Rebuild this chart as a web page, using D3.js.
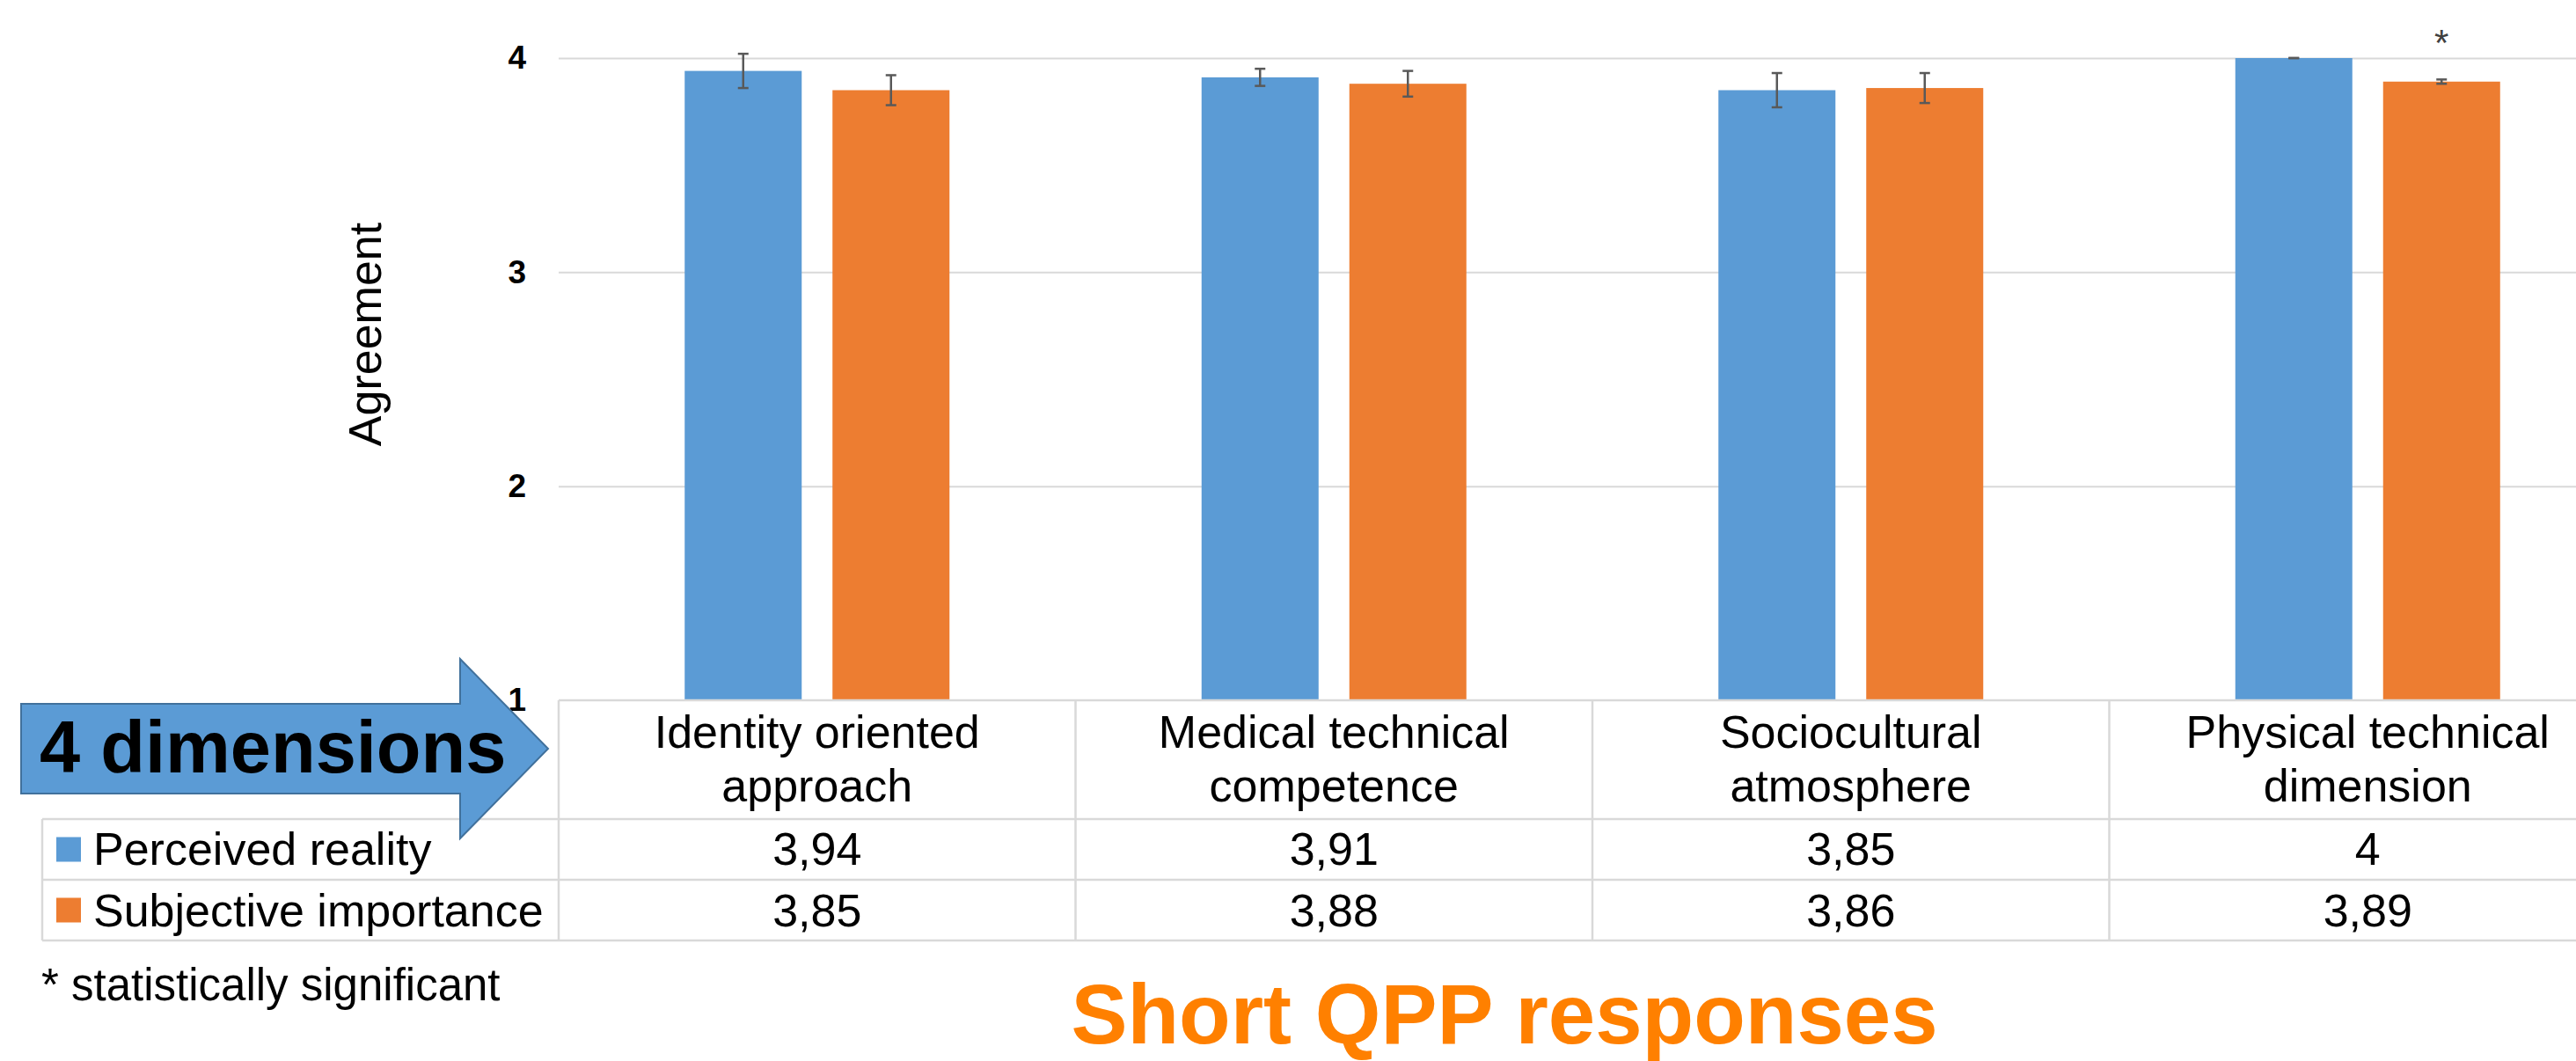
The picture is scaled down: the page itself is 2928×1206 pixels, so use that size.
<!DOCTYPE html>
<html>
<head>
<meta charset="utf-8">
<script src="https://cdn.jsdelivr.net/npm/d3@7"></script>
<style>
  html, body { margin: 0; padding: 0; background: #ffffff; }
  svg { display: block; }
  text { font-family: "Liberation Sans", Arial, sans-serif; }
</style>
</head>
<body>
<svg id="chart" width="2928" height="1206"></svg>
<script>
// ---- data ----
const categories = ["Identity oriented approach", "Medical technical competence", "Sociocultural atmosphere", "Physical technical dimension"];
const categoryLines = [["Identity oriented", "approach"], ["Medical technical", "competence"], ["Sociocultural", "atmosphere"], ["Physical technical", "dimension"]];
const seriesNames = ["Perceived reality", "Subjective importance"];
const perceived = [3.94, 3.91, 3.85, 4];
const importance = [3.85, 3.88, 3.86, 3.89];
const perceivedErr = [0.08, 0.04, 0.08, 0];
const importanceErr = [0.07, 0.06, 0.07, 0.01];
const importanceSignificant = [false, false, false, true];
const yTicks = [1, 2, 3, 4];
const colors = ["#5B9BD5", "#ED7D31"];
const yTitle = "Agreement";
const chartTitle = "Short QPP responses";
const arrowLabel = "4 dimensions";
const footnote = "* statistically significant";

// ---- layout ----
const svg = d3.select("#chart");
const plotLeft = 635, colW = 587.5;
const plotRight = plotLeft + colW * categories.length;
const yTop = 66, yBottom = 796;
const rowTops = [796, 931, 1000, 1069];
const legendLeft = 48;

const series = seriesNames.map((name, i) => ({
  name, color: colors[i],
  values: i === 0 ? perceived : importance,
  errs: i === 0 ? perceivedErr : importanceErr
}));

const x0 = d3.scaleBand().domain(categories).range([plotLeft, plotRight]).padding(0);
const x1 = d3.scaleBand().domain(seriesNames).range([0, x0.bandwidth()])
  .paddingInner(0.2083).paddingOuter(0.8527);
const y = d3.scaleLinear().domain([1, 4]).range([yBottom, yTop]);

const fmt = d3.formatLocale({decimal: ",", thousands: ".", grouping: [3], currency: ["", ""]}).format("~g");

// gridlines (via axis)
const grid = svg.append("g").attr("transform", `translate(${plotLeft},0)`)
  .call(d3.axisLeft(y).tickValues(yTicks.filter(t => t > 1)).tickSize(-(plotRight - plotLeft)).tickFormat(""));
grid.select(".domain").remove();
grid.selectAll("line").attr("stroke", "#d9d9d9").attr("stroke-width", 2);

// y tick labels
const yAxis = svg.append("g").attr("transform", `translate(${plotLeft},0)`)
  .call(d3.axisLeft(y).tickValues(yTicks).tickSize(0).tickPadding(37).tickFormat(d3.format("d")));
yAxis.select(".domain").remove();
yAxis.selectAll("text")
  .attr("font-family", "Liberation Sans, Arial, sans-serif")
  .attr("font-size", 37).attr("font-weight", "bold").attr("fill", "#000");

// y title
svg.append("text")
  .attr("transform", `translate(433,380) rotate(-90)`)
  .attr("text-anchor", "middle").attr("font-size", 52).attr("fill", "#000")
  .text(yTitle);

// bars
const groups = svg.append("g").selectAll("g").data(categories).join("g")
  .attr("transform", d => `translate(${x0(d)},0)`);
series.forEach((s, si) => {
  groups.append("rect")
    .attr("x", x1(s.name))
    .attr("width", x1.bandwidth())
    .attr("y", (d, i) => y(s.values[i]))
    .attr("height", (d, i) => y(1) - y(s.values[i]))
    .attr("fill", s.color);
});
// error bars
const capW = 12;
series.forEach((s, si) => {
  const cx = x1(s.name) + x1.bandwidth() / 2;
  const eb = groups.append("g").attr("stroke", "#595959").attr("stroke-width", 2.5);
  eb.append("line").attr("x1", cx).attr("x2", cx)
    .attr("y1", (d, i) => y(s.values[i] + s.errs[i]))
    .attr("y2", (d, i) => y(s.values[i] - s.errs[i]));
  eb.append("line").attr("x1", cx - capW / 2).attr("x2", cx + capW / 2)
    .attr("y1", (d, i) => y(s.values[i] + s.errs[i]))
    .attr("y2", (d, i) => y(s.values[i] + s.errs[i]));
  eb.append("line").attr("x1", cx - capW / 2).attr("x2", cx + capW / 2)
    .attr("y1", (d, i) => y(s.values[i] - s.errs[i]))
    .attr("y2", (d, i) => y(s.values[i] - s.errs[i]));
});
// significance markers
groups.filter((d, i) => importanceSignificant[i])
  .append("text")
  .attr("x", x1(seriesNames[1]) + x1.bandwidth() / 2)
  .attr("y", 63)
  .attr("text-anchor", "middle").attr("font-size", 42).attr("fill", "#404040")
  .text("*");

// data table
const tbl = svg.append("g").attr("stroke", "#d9d9d9").attr("stroke-width", 2.5);
tbl.append("line").attr("x1", plotLeft).attr("x2", plotRight).attr("y1", rowTops[0]).attr("y2", rowTops[0]);
rowTops.slice(1).forEach(ry => {
  tbl.append("line").attr("x1", legendLeft).attr("x2", plotRight).attr("y1", ry).attr("y2", ry);
});
categories.concat([null]).forEach((c, i) => {
  const xx = plotLeft + i * x0.step();
  tbl.append("line").attr("x1", xx).attr("x2", xx).attr("y1", rowTops[0]).attr("y2", rowTops[3]);
});
tbl.append("line").attr("x1", legendLeft).attr("x2", legendLeft).attr("y1", rowTops[1]).attr("y2", rowTops[3]);

// category header labels
const hdr = svg.append("g").selectAll("text").data(categories).join("text")
  .attr("x", d => x0(d) + x0.bandwidth() / 2)
  .attr("text-anchor", "middle").attr("font-size", 52).attr("fill", "#000");
hdr.each(function(d, i) {
  const t = d3.select(this);
  categoryLines[i].forEach((ln, li) => {
    t.append("tspan").attr("x", x0(d) + x0.bandwidth() / 2).attr("y", 850 + li * 61).text(ln);
  });
});

// value rows + legend
const rowBaselines = [983, 1053];
series.forEach((s, si) => {
  const rowMid = (rowTops[si + 1] + rowTops[si + 2]) / 2;
  svg.append("rect").attr("x", 64).attr("y", rowMid - 14).attr("width", 28).attr("height", 28).attr("fill", s.color);
  svg.append("text").attr("x", 106).attr("y", rowBaselines[si])
    .attr("font-size", 52).attr("fill", "#000").text(s.name);
  svg.append("g").selectAll("text").data(categories).join("text")
    .attr("x", d => x0(d) + x0.bandwidth() / 2)
    .attr("y", rowBaselines[si])
    .attr("text-anchor", "middle").attr("font-size", 52).attr("fill", "#000")
    .text((d, i) => fmt(s.values[i]));
});

// arrow annotation
const arrowPts = [[24, 800], [523, 800], [523, 749], [623, 851], [523, 953], [523, 902], [24, 902]];
svg.append("path")
  .attr("d", d3.line()(arrowPts) + "Z")
  .attr("fill", "#5B9BD5").attr("stroke", "#41719C").attr("stroke-width", 2);
svg.append("text").attr("x", 45).attr("y", 878)
  .attr("font-size", 83).attr("font-weight", "bold").attr("fill", "#000")
  .text(arrowLabel);

// footnote
svg.append("text").attr("x", 47).attr("y", 1137)
  .attr("font-size", 51).attr("fill", "#000").text(footnote);

// chart title
svg.append("text").attr("x", 1710).attr("y", 1186)
  .attr("text-anchor", "middle").attr("font-size", 96).attr("font-weight", "bold")
  .attr("fill", "#FF8000").text(chartTitle);
</script>
</body>
</html>
